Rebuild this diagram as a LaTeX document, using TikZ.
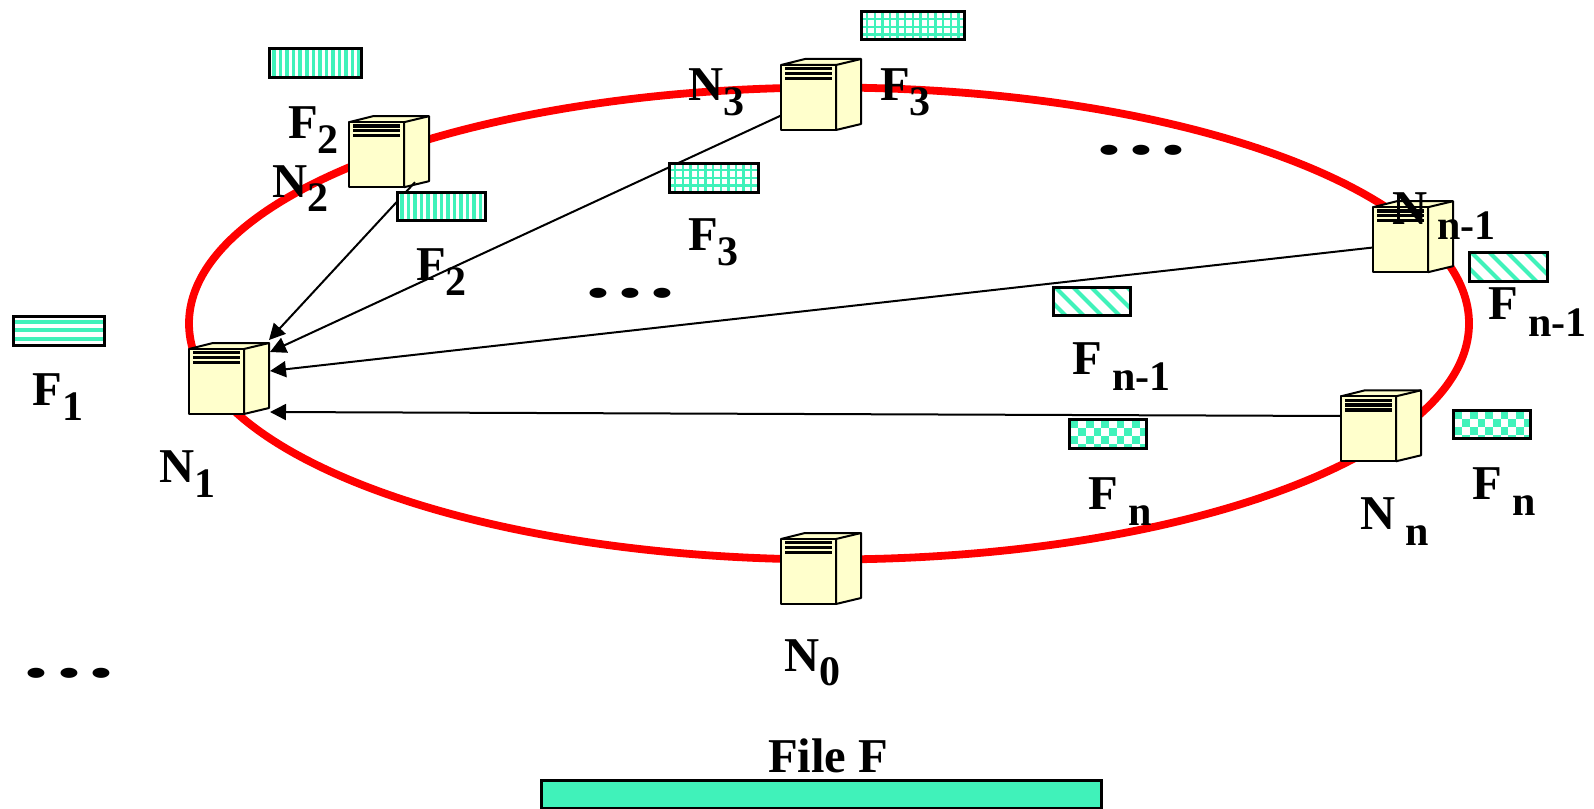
\documentclass[tikz,border=0pt]{standalone}
\usepackage{fontspec}
\setmainfont{Liberation Serif}
\usetikzlibrary{arrows.meta}
\definecolor{teal1}{HTML}{40F2BA}
\definecolor{ringred}{HTML}{FF0000}
\definecolor{boxyellow}{HTML}{FFFFCC}
\newcommand{\lblmain}[1]{{\fontsize{24.3}{24}\selectfont\bfseries #1}}
\newcommand{\lblsub}[2]{\raisebox{-#1pt}{\fontsize{21}{21}\selectfont\bfseries #2}}
\tikzset{
  x=0.5pt,y=-0.5pt,
  ring/.style={draw=ringred,line width=3.9pt},
  link/.style={draw=black,line width=1pt,-{Triangle[length=8pt,width=8pt]}},
  srvface/.style={draw=black,line width=1pt,fill=boxyellow,line join=bevel},
  srvbox/.style={inner sep=0pt,outer sep=0pt,minimum width=40pt,minimum height=35.5pt},
  barbox/.style={draw=black,line width=1.5pt,inner sep=0pt,outer sep=0pt},
  lbl/.style={anchor=base west,inner sep=0pt,outer sep=0pt},
  dots/.style={anchor=base west,inner sep=0pt,outer sep=0pt,font=\fontsize{48}{48}\selectfont\bfseries},
}
% name, x, y of the front face's top left corner
\newcommand{\server}[3]{%
  \begin{scope}[shift={(#2,#3)}]
    \path[srvface] (0,0) -- (24,-6) -- (80,-6) -- (80,59) -- (55,65) -- (55,0) -- cycle;
    \path[srvface] (55,0) -- (80,-6);
    \path[srvface] (0,0) rectangle (55,65);
    \fill[black] (4,2.2) rectangle (51,5.4);
    \fill[black] (4,7) rectangle (51,10.2);
    \fill[black] (4,12) rectangle (51,15.2);
    \node[srvbox] (#1) at (40,29.5) {};
  \end{scope}}
% name, x1, y1, x2, y2, pattern macro
\newcommand{\filebar}[6]{%
  \pgfmathsetmacro{\bw}{(#4-#2)*0.5}\pgfmathsetmacro{\bh}{(#5-#3)*0.5}%
  \begin{scope}
    \fill[white] (#2,#3) rectangle (#4,#5);
    \clip (#2,#3) rectangle (#4,#5);
    \begin{scope}[shift={(#2,#3)}]#6\end{scope}
  \end{scope}
  \node[barbox,minimum width=\bw pt,minimum height=\bh pt] (#1) at ({(#2+#4)/2},{(#3+#5)/2}) {};}
\newcommand{\patV}{\foreach \i in {0,...,17}{\fill[teal1] ({3.2+6.55*\i},0) rectangle ({6.8+6.55*\i},40);}}
\newcommand{\patH}{\foreach \i in {0,...,3}{\fill[teal1] (0,{3.8+8.5*\i}) rectangle (110,{7.8+8.5*\i});}}
\newcommand{\patG}{\foreach \i in {0,...,15}{\fill[teal1] ({5+7.6*\i},0) rectangle ({7.4+7.6*\i},40);}
  \foreach \i in {0,...,4}{\fill[teal1] (0,{6+7.6*\i}) rectangle (110,{8.4+7.6*\i});}}
\newcommand{\patD}{\foreach \i in {-3,...,7}{\draw[teal1,line width=2pt] ({18*\i},-2) -- ({18*\i+34},32);}}
\newcommand{\patC}{\foreach \i in {0,...,11}{\foreach \j in {0,...,4}{%
  \pgfmathparse{int(mod(\i+\j,2))}\ifnum\pgfmathresult=0
  \fill[teal1] ({1.5+7.7*\i},{1.5+7.7*\j}) rectangle ({9.2+7.7*\i},{9.2+7.7*\j});\fi}}}
\newcommand{\patS}{\fill[teal1] (0,0) rectangle (600,40);}
\begin{document}
\begin{tikzpicture}
\useasboundingbox (0,0) rectangle (1594,808);
% ring
\draw[ring] (829,323.5) ellipse [x radius=640,y radius=236];
% servers
\server{n1}{189}{349}
\server{n2}{349}{122.2}
\server{n3}{781}{65}
\server{nm}{1373}{207.2}
\server{nn}{1341}{396.3}
\server{n0}{781}{539}
% connectors
\draw[link] ([shift={(-14,-5)}]n2.south east) -- ([shift={(0,-38.5)}]n1.east);
\draw[link] ([shift={(0,21)}]n3.west) -- ([shift={(1,-26.5)}]n1.east);
\draw[link] ([shift={(0,10.8)}]nm.west) -- ([shift={(1,-7.5)}]n1.east);
\draw[link] ([shift={(0,-9.8)}]nn.west) -- ([shift={(1,33.5)}]n1.east);
% file pieces
\filebar{fa}{13}{316}{104}{345}{\patH}
\filebar{fb}{269}{49}{361}{78}{\patV}
\filebar{fc}{397}{192}{485}{220}{\patV}
\filebar{fd}{861}{12}{964}{40}{\patG}
\filebar{fe}{669}{163}{758}{192}{\patG}
\filebar{ff}{1053}{287}{1130}{315}{\patD}
\filebar{fg}{1469}{252}{1547}{281}{\patD}
\filebar{fh}{1069}{419}{1146}{448}{\patC}
\filebar{fi}{1453}{410}{1530}{438}{\patC}
\filebar{fj}{541}{780}{1101}{808.5}{\patS}
% labels
\begin{scope}[shift={(-1,-1.5)}]
\node[lbl] (l1) at (33.5,406.6) {\lblmain{F}\lblsub{7.5}{1}};
\node[lbl] (l2) at (289,140) {\lblmain{F}\lblsub{7.5}{2}};
\node[lbl] (l3) at (417,282) {\lblmain{F}\lblsub{7.5}{2}};
\node[lbl] (l4) at (881,102) {\lblmain{F}\lblsub{7.5}{3}};
\node[lbl] (l5) at (689,252) {\lblmain{F}\lblsub{7.5}{3}};
\node[lbl] (l6) at (1073,376) {\lblmain{F}\lblsub{8}{ n-1}};
\node[lbl] (l7) at (1489,320.5) {\lblmain{F}\lblsub{8.5}{ n-1}};
\node[lbl] (l8) at (1089,511) {\lblmain{F}\lblsub{8}{ n}};
\node[lbl] (l9) at (1473,501) {\lblmain{F}\lblsub{8}{ n}};
\node[lbl] (l10) at (160.6,484) {\lblmain{N}\lblsub{7.5}{1}};
\node[lbl] (l11) at (273,199) {\lblmain{N}\lblsub{7}{2}};
\node[lbl] (l12) at (689,102) {\lblmain{N}\lblsub{7.5}{3}};
\node[lbl] (l13) at (1393,226) {\lblmain{N}\lblsub{7.5}{ n-1}};
\node[lbl] (l14) at (1361,531) {\lblmain{N}\lblsub{8}{ n}};
\node[lbl] (l15) at (785,673) {\lblmain{N}\lblsub{7}{0}};
\node[lbl] (l16) at (769,774) {\lblmain{File F}};
\end{scope}
% ellipses of dots
\node[dots] (d1) at (1096,155) {\scalebox{1.08}[0.65]{.\kern3pt.\kern3pt.}};
\node[dots] (d2) at (585,297) {\scalebox{1.08}[0.65]{.\kern3pt.\kern3pt.}};
\node[dots] (d3) at (24,677) {\scalebox{1.08}[0.65]{.\kern3pt.\kern3pt.}};
\end{tikzpicture}
\end{document}
